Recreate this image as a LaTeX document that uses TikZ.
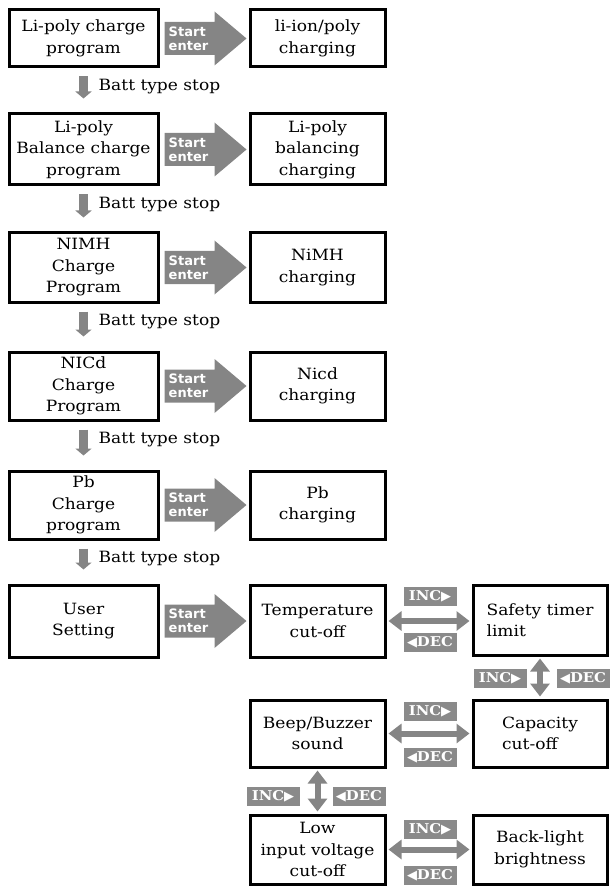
\documentclass[tikz,border=0pt]{standalone}
\usepackage{fontspec}
\setmainfont{DejaVu Serif}[FakeStretch=1.1]
\newfontfamily\symfont{DejaVu Sans}
\usetikzlibrary{arrows.meta,calc}
\definecolor{agray}{HTML}{858585}
\definecolor{lgray}{HTML}{8A8A8A}
\newcommand\startarr[2]{%
  \fill[agray] ($(#1.east)+(5,-16.5)$) -- ($(#2.west)+(-34,-16.5)$) -- ($(#2.west)+(-34,-27)$) -- ($(#2.west)+(-2,0)$) -- ($(#2.west)+(-34,27)$) -- ($(#2.west)+(-34,16.5)$) -- ($(#1.east)+(5,16.5)$) -- cycle;
  \node[startlbl] at ($(#1.east)+(29,0)$) {Start\\enter};}
\newcommand\battstop[2]{%
  \draw[downarr] ($(#1.south)+(0,8)$) -- ($(#2.north)+(0,-14)$);
  \node[battlbl] at ($(#1.south)+(15,18)$) {Batt type stop};}
\newcommand\incl{INC{\symfont\fontsize{13}{13}\selectfont ▶}}
\newcommand\decl{{\symfont\fontsize{13}{13}\selectfont ◀}DEC}
\begin{document}
\begin{tikzpicture}[x=1pt,y=-1pt,
  box/.style={draw, line width=3pt, align=center, inner sep=2pt,
    font=\fontsize{15.5}{21.5}\selectfont},
  lw/.style={minimum width=149pt},
  rw/.style={minimum width=135pt},
  startlbl/.style={text=white, align=left, inner sep=0pt,
    font=\symfont\bfseries\fontsize{13}{14}\selectfont},
  battlbl/.style={anchor=west, inner sep=0pt, font=\fontsize{15.5}{16}\selectfont},
  downarr/.style={agray, line width=9pt, -{Triangle[width=16pt,length=7pt]}},
  dbl/.style={agray, line width=6pt,
    {Triangle[width=19pt,length=13pt]}-{Triangle[width=19pt,length=13pt]},
    shorten <=2pt, shorten >=2pt},
  lbl/.style={fill=lgray, text=white, inner sep=1.5pt, minimum height=19pt, minimum width=53pt,
    font=\bfseries\fontsize{13.5}{14}\selectfont}
]
\useasboundingbox (0,0) rectangle (611,890);

% left column
\node[box,lw,minimum height=57pt] (l1) at (83.5,38.5) {Li-poly charge\\program};
\node[box,lw,minimum height=71pt] (l2) at (83.5,149.5) {Li-poly\\Balance charge\\program};
\node[box,lw,minimum height=69pt] (l3) at (83.5,267.5) {NIMH\\Charge\\Program};
\node[box,lw,minimum height=68pt] (l4) at (83.5,386) {NICd\\Charge\\Program};
\node[box,lw,minimum height=68pt] (l5) at (83.5,505) {Pb\\Charge\\program};
\node[box,lw,minimum height=72pt] (l6) at (83.5,621) {User\\Setting};

% middle column
\node[box,rw,minimum height=57pt] (r1) at (317.5,38.5) {li-ion/poly\\charging};
\node[box,rw,minimum height=71pt] (r2) at (317.5,149.5) {Li-poly\\balancing\\charging};
\node[box,rw,minimum height=69pt] (r3) at (317.5,267.5) {NiMH\\charging};
\node[box,rw,minimum height=68pt] (r4) at (317.5,386) {Nicd\\charging};
\node[box,rw,minimum height=68pt] (r5) at (317.5,505) {Pb\\charging};
\node[box,rw,minimum height=72pt] (temp) at (317.5,621) {Temperature\\cut-off};
\node[box,rw,minimum height=67pt] (beep) at (317.5,733.5) {Beep/Buzzer\\sound};
\node[box,rw,minimum height=69pt] (low) at (317.5,849.5) {Low\\input voltage\\cut-off};

% right column
\node[box,rw,minimum width=134pt,minimum height=70pt,align=left] (safe) at (540,620) {Safety timer\\limit};
\node[box,rw,minimum width=134pt,minimum height=67pt,align=left] (cap) at (540,733.5) {Capacity\\cut-off};
\node[box,rw,minimum width=134pt,minimum height=69pt] (back) at (540,849.5) {Back-light\\brightness};

% start arrows
\startarr{l1}{r1}
\startarr{l2}{r2}
\startarr{l3}{r3}
\startarr{l4}{r4}
\startarr{l5}{r5}
\startarr{l6}{temp}

% batt type stop
\battstop{l1}{l2}
\battstop{l2}{l3}
\battstop{l3}{l4}
\battstop{l4}{l5}
\battstop{l5}{l6}

% settings loop
\draw[dbl] (temp.east) -- (temp.east -| safe.west);
\node[lbl] (i1) at (430,596.5) {\incl};
\node[lbl] (d1) at (430,642) {\decl};

\draw[dbl] (safe.south) -- (cap.north);
\node[lbl] (i2) at (500,678) {\incl};
\node[lbl] (d2) at (583,678) {\decl};

\draw[dbl] (beep.east) -- (cap.west);
\node[lbl] (i3) at (430,711) {\incl};
\node[lbl] (d3) at (430,757) {\decl};

\draw[dbl] (beep.south) -- (low.north);
\node[lbl] (i4) at (273,796) {\incl};
\node[lbl] (d4) at (359,796) {\decl};

\draw[dbl] (low.east) -- (back.west);
\node[lbl] (i5) at (430,829) {\incl};
\node[lbl] (d5) at (430,875) {\decl};
\end{tikzpicture}
\end{document}
